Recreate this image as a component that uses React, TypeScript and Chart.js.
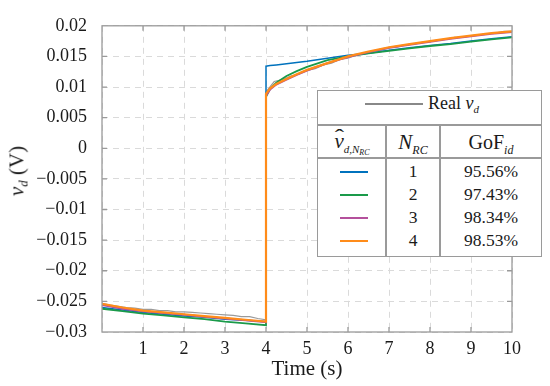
import React, { useEffect, useRef } from "react";
import { Chart, registerables } from "chart.js";
Chart.register(...registerables);

// ---- data ----
const modelTime = [0, 0.5, 1, 1.5, 2, 2.5, 3, 3.5, 4, 4, 4.1, 4.25, 4.5, 4.75, 5, 5.5, 6, 6.5, 7, 7.5, 8, 8.5, 9, 9.5, 10];

const model1 = [-0.0260, -0.0264, -0.0268, -0.0271, -0.0274, -0.0276, -0.0279, -0.0281, -0.0283,
  0.0134, 0.0135, 0.0136, 0.0138, 0.0140, 0.0142, 0.0147, 0.0152, 0.0155, 0.0160, 0.0164, 0.0168, 0.0171, 0.0175, 0.0179, 0.0182];
const model2 = [-0.0262, -0.0266, -0.0270, -0.0273, -0.0276, -0.0279, -0.0283, -0.0286, -0.0289,
  0.0084, 0.0097, 0.0107, 0.0118, 0.0126, 0.0133, 0.0144, 0.0150, 0.0155, 0.0159, 0.0163, 0.0167, 0.0170, 0.0174, 0.0178, 0.0181];
const model3 = [-0.0256, -0.0262, -0.0266, -0.0269, -0.0272, -0.0275, -0.0278, -0.0281, -0.0284,
  0.0086, 0.0096, 0.0104, 0.0112, 0.0120, 0.0127, 0.0139, 0.0149, 0.0157, 0.0164, 0.0169, 0.0174, 0.0179, 0.0183, 0.0187, 0.0190];
const model4 = [-0.0254, -0.0260, -0.0265, -0.0268, -0.0271, -0.0274, -0.0277, -0.0280, -0.0283,
  0.0089, 0.0098, 0.0105, 0.0113, 0.0121, 0.0128, 0.0139, 0.0150, 0.0158, 0.0165, 0.0170, 0.0175, 0.0180, 0.0184, 0.0188, 0.0191];

const realTime = [0, 0.2, 0.4, 0.6, 0.8, 1, 1.2, 1.4, 1.6, 1.8, 2, 2.2, 2.4, 2.6, 2.8, 3, 3.2, 3.4, 3.6, 3.8, 4,
  4, 4.2, 4.4, 4.6, 4.8, 5, 5.2, 5.4, 5.6, 5.8, 6, 6.2, 6.4, 6.6, 6.8, 7, 7.2, 7.4, 7.6, 7.8, 8, 8.2, 8.4, 8.6, 8.8, 9, 9.2, 9.4, 9.6, 9.8, 10];
const realVd = [-0.0253, -0.0256, -0.0258, -0.0260, -0.0261, -0.0263, -0.0263, -0.0265, -0.0265, -0.0267, -0.0267,
  -0.0268, -0.0269, -0.0270, -0.0271, -0.0272, -0.0273, -0.0275, -0.0275, -0.0278, -0.0280,
  0.0092, 0.0109, 0.0112, 0.0118, 0.0121, 0.0127, 0.0130, 0.0136, 0.0139, 0.0145, 0.0147, 0.0152, 0.0154, 0.0158,
  0.0160, 0.0164, 0.0165, 0.0169, 0.0170, 0.0173, 0.0174, 0.0177, 0.0178, 0.0181, 0.0181, 0.0184, 0.0185, 0.0187,
  0.0188, 0.0191, 0.0191];

const nrcLabels = ["1", "2", "3", "4"];
const gofLabels = ["95.56%", "97.43%", "98.34%", "98.53%"];
const modelColors = ["#0072BD", "#1a9a4a", "#b4509c", "#ff8c1a"];
const realColor = "#9a9a9a";

const FONT = "'Liberation Serif', 'Times New Roman', serif";

const boxPlugin = {
  id: "boxPlugin",
  afterDatasetsDraw(chart: any) {
    const { ctx, chartArea: a, scales } = chart;
    ctx.save();
    ctx.strokeStyle = "#9a9a9a";
    ctx.lineWidth = 1.3;
    ctx.strokeRect(a.left, a.top, a.right - a.left, a.bottom - a.top);
    const len = 5;
    ctx.beginPath();
    scales.x.ticks.forEach((t: any) => {
      const x = scales.x.getPixelForValue(t.value);
      if (x <= a.left + 1 || x >= a.right - 1) return;
      ctx.moveTo(x, a.bottom); ctx.lineTo(x, a.bottom - len);
      ctx.moveTo(x, a.top); ctx.lineTo(x, a.top + len);
    });
    scales.y.ticks.forEach((t: any) => {
      const y = scales.y.getPixelForValue(t.value);
      if (y <= a.top + 1 || y >= a.bottom - 1) return;
      ctx.moveTo(a.left, y); ctx.lineTo(a.left + len, y);
      ctx.moveTo(a.right, y); ctx.lineTo(a.right - len, y);
    });
    ctx.stroke();
    ctx.restore();
  },
};

function fmtY(v: number) {
  const n = Number(Number(v).toFixed(3));
  return String(n).replace("-", "\u2212");
}

function Cell(props: { x: number; y: number; size?: number; children: any; italic?: boolean }) {
  return (
    <div
      style={{
        position: "absolute",
        left: props.x,
        top: props.y,
        transform: "translate(-50%, -50%)",
        whiteSpace: "nowrap",
        fontSize: props.size || 17,
        fontStyle: props.italic ? "italic" : "normal",
        lineHeight: 1,
        color: "#1a1a1a",
      }}
    >
      {props.children}
    </div>
  );
}

export default function App() {
  const ref = useRef<HTMLCanvasElement | null>(null);
  useEffect(() => {
    if (!ref.current) return;
    const mk = (vals: number[]) => modelTime.map((t, i) => ({ x: t, y: vals[i] }));
    const tickFont = { family: FONT, size: 18 };
    const chart = new Chart(ref.current, {
      type: "line",
      data: {
        datasets: [
          { label: "4", data: mk(model4), borderColor: modelColors[3], borderWidth: 2.2, pointRadius: 0 },
          { label: "3", data: mk(model3), borderColor: modelColors[2], borderWidth: 2, pointRadius: 0 },
          { label: "2", data: mk(model2), borderColor: modelColors[1], borderWidth: 1.8, pointRadius: 0 },
          { label: "1", data: mk(model1), borderColor: modelColors[0], borderWidth: 1.5, pointRadius: 0 },
          { label: "Real", data: realTime.map((t, i) => ({ x: t, y: realVd[i] })), borderColor: realColor, borderWidth: 1.2, pointRadius: 0 },
        ],
      },
      options: {
        responsive: false,
        animation: false,
        layout: { padding: { left: 0, right: 38, top: 14, bottom: 0 } },
        plugins: { legend: { display: false }, tooltip: { enabled: false } },
        elements: { line: { tension: 0 } },
        scales: {
          x: {
            type: "linear",
            min: 0,
            max: 10,
            afterFit: (s: any) => { s.height = 54; },
            ticks: {
              stepSize: 1,
              autoSkip: false,
              maxRotation: 0,
              padding: 6,
              color: "#1a1a1a",
              font: tickFont,
              callback: (v: any) => (Number(v) === 0 ? "" : String(v)),
            },
            grid: { color: "#dadada", lineWidth: 1, drawTicks: false },
            border: { display: false, dash: [6, 5] },
            title: {
              display: true,
              text: "Time (s)",
              color: "#1a1a1a",
              font: { family: FONT, size: 21 },
              padding: { top: 0, bottom: 4 },
            },
          },
          y: {
            type: "linear",
            min: -0.03,
            max: 0.02,
            afterFit: (s: any) => { s.width = 102; },
            ticks: {
              stepSize: 0.005,
              padding: 15,
              color: "#1a1a1a",
              font: tickFont,
              callback: (v: any) => fmtY(v),
            },
            grid: { color: "#dadada", lineWidth: 1, drawTicks: false },
            border: { display: false, dash: [6, 5] },
          },
        },
      },
      plugins: [boxPlugin],
    } as any);
    return () => chart.destroy();
  }, []);

  const L = 317, T = 90, W = 225, H = 167;
  const colX = [34, 95, 173];
  const rowY = [81, 104, 127, 150];
  const lineCol = "#9a9a9a";

  return (
    <div style={{ position: "fixed", left: 0, top: 0, width: 550, height: 386, background: "#fff", fontFamily: FONT }}>
      <canvas ref={ref} width={550} height={386} style={{ position: "absolute", left: 0, top: 0 }} />
      {/* y axis title */}
      <div
        style={{
          position: "absolute",
          left: 18,
          top: 171,
          transform: "translate(-50%, -50%) rotate(-90deg)",
          whiteSpace: "nowrap",
          fontSize: 21,
          color: "#1a1a1a",
          lineHeight: 1,
        }}
      >
        <i>v</i>
        <sub style={{ fontSize: 13, fontStyle: "italic", verticalAlign: "-4px" }}>d</sub> (V)
      </div>
      {/* legend table */}
      <div
        style={{
          position: "absolute",
          left: L,
          top: T,
          width: W,
          height: H,
          boxSizing: "border-box",
          border: `1.5px solid ${lineCol}`,
          background: "#fff",
        }}
      >
        <div style={{ position: "absolute", left: 47, top: 12, width: 58, height: 2, background: "#888" }} />
        <div style={{ position: "absolute", left: 110, top: 13, transform: "translateY(-50%)", fontSize: 18, whiteSpace: "nowrap", lineHeight: 1, color: "#1a1a1a" }}>
          Real <i>v</i>
          <sub style={{ fontSize: 11, fontStyle: "italic", verticalAlign: "-4px" }}>d</sub>
        </div>
        <div style={{ position: "absolute", left: 0, top: 33, width: "100%", height: 1.5, background: lineCol }} />
        <div style={{ position: "absolute", left: 0, top: 66, width: "100%", height: 1.5, background: lineCol }} />
        <div style={{ position: "absolute", left: 67, top: 33, width: 1.5, bottom: 0, background: lineCol }} />
        <div style={{ position: "absolute", left: 121, top: 33, width: 1.5, bottom: 0, background: lineCol }} />

        <Cell x={colX[0]} y={53} size={21}>
          <span style={{ position: "relative", display: "inline-block", fontStyle: "italic" }}>
            v
            <span
              style={{
                position: "absolute",
                left: "55%",
                top: -4,
                transform: "translateX(-50%) scaleX(1.4)",
                fontStyle: "normal",
                fontSize: 20,
                lineHeight: 1,
              }}
            >
              ˆ
            </span>
          </span>
          <sub style={{ fontSize: 11, fontStyle: "italic", verticalAlign: "-5px" }}>
            d,N<sub style={{ fontSize: 8, verticalAlign: "-2px" }}>RC</sub>
          </sub>
        </Cell>
        <Cell x={colX[1]} y={53} size={21}>
          <i>N</i>
          <sub style={{ fontSize: 12, fontStyle: "italic", verticalAlign: "-5px" }}>RC</sub>
        </Cell>
        <Cell x={colX[2]} y={53} size={20}>
          GoF<sub style={{ fontSize: 12, fontStyle: "italic", verticalAlign: "-5px" }}>id</sub>
        </Cell>

        {nrcLabels.map((n, i) => (
          <React.Fragment key={n}>
            <div style={{ position: "absolute", left: 22, top: rowY[i] - 1, width: 28, height: 1.6, background: modelColors[i] }} />
            <Cell x={colX[1]} y={rowY[i]} size={17.5}>{n}</Cell>
            <Cell x={colX[2]} y={rowY[i]} size={17.5}>{gofLabels[i]}</Cell>
          </React.Fragment>
        ))}
      </div>
    </div>
  );
}
